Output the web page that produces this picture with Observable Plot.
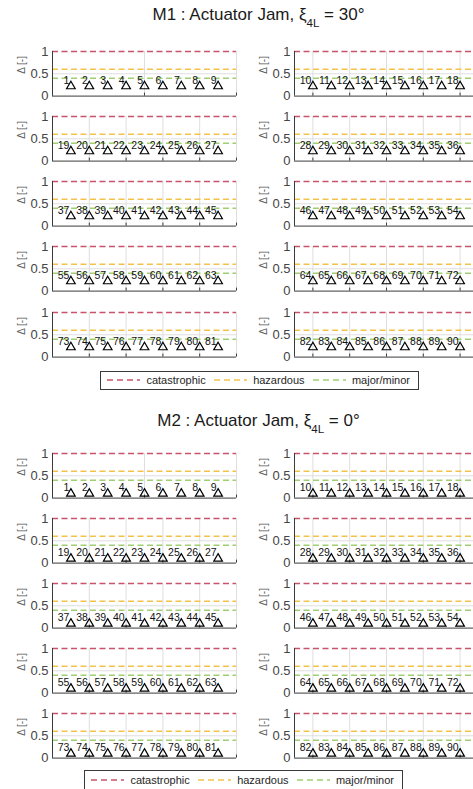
<!DOCTYPE html>
<html><head><meta charset="utf-8">
<script src="https://cdn.jsdelivr.net/npm/d3@7"></script>
<script src="https://cdn.jsdelivr.net/npm/@observablehq/plot@0.6"></script>
<style>
html,body{margin:0;padding:0;background:#fff;}
#root{position:relative;width:473px;height:789px;overflow:hidden;font-family:"Liberation Sans",Arial,sans-serif;}
.title{position:absolute;white-space:nowrap;font-size:17px;line-height:17px;color:#1a1a1a;transform:translateX(-50%);}
.title sub{font-size:11.5px;vertical-align:-7px;line-height:0;}
.legend{position:absolute;box-sizing:border-box;border:1px solid #3a3a3a;background:#fff;display:flex;align-items:center;font-size:11px;color:#262626;padding-left:6px;}
.legend svg{display:block;margin-right:6px;}
.legend .lab{margin-right:8px;white-space:nowrap;}
.panel{position:absolute;}
</style></head><body><div id="root"></div>
<script>
// ---------- data ----------
const cases = [1,2,3,4,5,6,7,8,9,10,11,12,13,14,15,16,17,18,19,20,21,22,23,24,25,26,27,28,29,30,
  31,32,33,34,35,36,37,38,39,40,41,42,43,44,45,46,47,48,49,50,51,52,53,54,55,56,57,58,59,60,
  61,62,63,64,65,66,67,68,69,70,71,72,73,74,75,76,77,78,79,80,81,82,83,84,85,86,87,88,89,90];
const deltaM1 = [0.22,0.22,0.22,0.22,0.22,0.22,0.22,0.22,0.22,0.22,0.22,0.22,0.22,0.22,0.22,0.22,0.22,0.22,
  0.22,0.22,0.22,0.22,0.22,0.22,0.22,0.22,0.22,0.22,0.22,0.22,0.22,0.22,0.22,0.22,0.22,0.22,
  0.22,0.22,0.22,0.22,0.22,0.22,0.22,0.22,0.22,0.22,0.22,0.22,0.22,0.22,0.22,0.22,0.22,0.22,
  0.22,0.22,0.22,0.22,0.22,0.22,0.22,0.22,0.22,0.22,0.22,0.22,0.22,0.22,0.22,0.22,0.22,0.22,
  0.22,0.22,0.22,0.22,0.22,0.22,0.22,0.22,0.22,0.22,0.22,0.22,0.22,0.22,0.22,0.22,0.22,0.22];
const deltaM2 = [0.1,0.1,0.1,0.1,0.1,0.1,0.1,0.1,0.1,0.1,0.1,0.1,0.1,0.1,0.1,0.1,0.1,0.1,
  0.1,0.1,0.1,0.1,0.1,0.1,0.1,0.1,0.1,0.1,0.1,0.1,0.1,0.1,0.1,0.1,0.1,0.1,
  0.1,0.1,0.1,0.1,0.1,0.1,0.1,0.1,0.1,0.1,0.1,0.1,0.1,0.1,0.1,0.1,0.1,0.1,
  0.1,0.1,0.1,0.1,0.1,0.1,0.1,0.1,0.1,0.1,0.1,0.1,0.1,0.1,0.1,0.1,0.1,0.1,
  0.1,0.1,0.1,0.1,0.1,0.1,0.1,0.1,0.1,0.1,0.1,0.1,0.1,0.1,0.1,0.1,0.1,0.1];
const modelNames = ["M1", "M2"];
const jamAngles = ["30°", "0°"];
const panelStarts = [0, 9, 18, 27, 36, 45, 54, 63, 72, 81];
const tickSteps = [5, 2, 2, 2, 2, 5, 2, 2, 2, 2];
const yTicks = [0, 0.5, 1];
const yTickLabels = ["0", "0.5", "1"];
const thresholdNames = ["catastrophic", "hazardous", "major/minor"];
const thresholdValues = [1, 0.6, 0.4];
const thresholdColors = ["#c8536a", "#f4c24a", "#9fcf72"];
const yLabel = "Δ [-]";

// ---------- layout ----------
const FONT = '"Liberation Sans", Arial, sans-serif';
const root = document.getElementById("root");
const layout = [
  {titleBase: 20.7, top: 50.7, pitch: 65.25, legendLeft: 100, legendTop: 370.7},
  {titleBase: 426, top: 453.2, pitch: 65.0, legendLeft: 84, legendTop: 770}
];
const MT = 8, MB = 8, PH = 44.6;
const thresholdRows = thresholdValues.map((v, i) => ({value: v, color: thresholdColors[i], name: thresholdNames[i]}));

function panel(data, start, step) {
  const ticks = [];
  for (let t = Math.ceil(start / step) * step; t <= start + 10; t += step) ticks.push(t);
  return Plot.plot({
    width: 240, height: MT + PH + MB, marginLeft: 52, marginRight: 4, marginTop: MT, marginBottom: MB,
    style: {fontFamily: FONT, fontSize: "13px", color: "#454545", background: "transparent", overflow: "visible"},
    x: {domain: [start, start + 10], axis: null},
    y: {domain: [0, 1], ticks: yTicks, tickFormat: v => yTickLabels[yTicks.indexOf(v)], tickSize: 0, tickPadding: 4, label: null},
    color: {type: "identity"},
    marks: [
      Plot.ruleX(ticks, {stroke: "#dedede", strokeWidth: 1}),
      Plot.ruleY([0.5], {stroke: "#dedede", strokeWidth: 1}),
      Plot.ruleY(thresholdRows, {y: "value", stroke: d => d.color, strokeWidth: 1.5, strokeDasharray: "6,3.5"}),
      Plot.ruleY([0], {stroke: "#3a3a3a", strokeWidth: 1}),
      Plot.ruleX([start], {stroke: "#3a3a3a", strokeWidth: 1}),
      Plot.ruleX(ticks, {y1: 0, y2: 0, insetTop: -3, stroke: "#3a3a3a", strokeWidth: 1}),
      Plot.dot(data, {x: "c", y: "d", symbol: "triangle", r: 3.2, stroke: "#000", strokeWidth: 1.2, fill: "none"}),
      Plot.text(data, {x: "c", y: "d", text: d => String(d.c), textAnchor: "end", dx: -1.5, dy: -6, fontSize: 10.5, fill: "#111"}),
      Plot.text([yLabel], {frameAnchor: "left", text: d => d, rotate: -90, dx: -31, fontSize: 10, fill: "#5a5a5a"})
    ]
  });
}

[deltaM1, deltaM2].forEach((delta, m) => {
  const L = layout[m];
  // title
  const t = document.createElement("div");
  t.className = "title";
  t.style.left = "258.5px";
  t.style.top = (L.titleBase - 14.4) + "px";
  t.innerHTML = `${modelNames[m]} : Actuator Jam, ξ<sub>4L</sub> = ${jamAngles[m]}`;
  root.appendChild(t);
  // panels
  panelStarts.forEach((start, p) => {
    const data = cases.filter(c => c > start && c <= start + 9).map(c => ({c, d: delta[c - 1]}));
    const svg = panel(data, start, tickSteps[p]);
    const row = Math.floor(p / 2), col = p % 2;
    svg.classList.add("panel");
    svg.style.left = (col === 0 ? 0 : 242) + "px";
    svg.style.top = (L.top + row * L.pitch - MT) + "px";
    root.appendChild(svg);
  });
  // legend
  const lg = document.createElement("div");
  lg.className = "legend";
  lg.style.left = L.legendLeft + "px";
  lg.style.top = L.legendTop + "px";
  lg.style.width = "319px";
  lg.style.height = "19.5px";
  thresholdRows.forEach(r => {
    const ns = "http://www.w3.org/2000/svg";
    const s = document.createElementNS(ns, "svg");
    s.setAttribute("width", 36); s.setAttribute("height", 6);
    const ln = document.createElementNS(ns, "line");
    ln.setAttribute("x1", 0); ln.setAttribute("x2", 36); ln.setAttribute("y1", 3); ln.setAttribute("y2", 3);
    ln.setAttribute("stroke", r.color); ln.setAttribute("stroke-width", 1.5); ln.setAttribute("stroke-dasharray", "6,4");
    s.appendChild(ln);
    lg.appendChild(s);
    const sp = document.createElement("span");
    sp.className = "lab"; sp.textContent = r.name;
    lg.appendChild(sp);
  });
  root.appendChild(lg);
});
</script></body></html>
